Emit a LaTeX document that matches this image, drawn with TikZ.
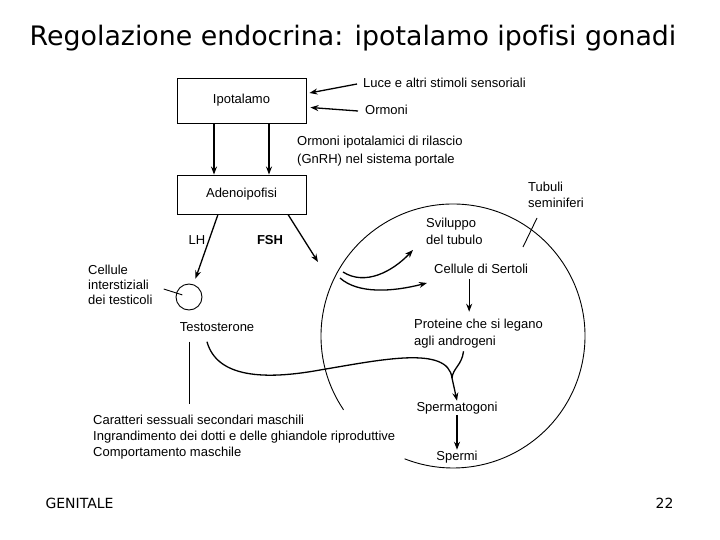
\documentclass[tikz,border=0pt]{standalone}
\usepackage{fontspec}
\setmainfont[Ligatures=NoCommon]{Liberation Sans}
\newfontfamily\slidefont[Ligatures=NoCommon]{DejaVu Sans}
\usetikzlibrary{arrows.meta}

\tikzset{
	lbl/.style={inner sep=1pt, align=left, font=\fontsize{13}{16}\selectfont},
	organbox/.style={draw, line width=0.9pt, minimum width=129pt, inner sep=0pt, font=\fontsize{13}{16}\selectfont},
	flow/.style={line width=1.3pt, -{Stealth[length=8pt,width=6pt]}},
	thinline/.style={line width=0.9pt},
}

\begin{document}
\begin{tikzpicture}[x=1pt,y=-1pt]
			%%%%% START %%%%%
			\useasboundingbox (0,0) rectangle (720,540);
			
			\node[font=\slidefont\fontsize{26.8}{30}\selectfont] (title) at (353,38) {Regolazione endocrina: ipotalamo ipofisi gonadi};
			
			\node[organbox, minimum height=45pt] (ipot) at (241.5,100.5) {Ipotalamo};
			\node[organbox, minimum height=39pt] (adeno) at (241.5,194.5) {Adenoipofisi};
			
			\draw[flow] ([xshift=-27.5pt]ipot.south) -- ([xshift=-27.5pt]adeno.north);
			\draw[flow] ([xshift=27.5pt]ipot.south) -- ([xshift=27.5pt]adeno.north);
			
			\node[lbl, anchor=west] (luce) at (362,83) {Luce e altri stimoli sensoriali};
			\node[lbl, anchor=west] (ormoni) at (364,110) {Ormoni};
			\draw[flow] ([xshift=-5pt,yshift=-1pt]luce.west) -- ([xshift=3pt,yshift=7.5pt]ipot.east);
			\draw[flow] ([xshift=-6pt,yshift=-1pt]ormoni.west) -- ([xshift=4pt,yshift=-7pt]ipot.east);
			
			\node[lbl, anchor=west, font=\fontsize{13}{18}\selectfont] (gnrh) at (296,151) {Ormoni ipotalamici di rilascio\\(GnRH) nel sistema portale};
			
			% tubulo seminifero
			\draw[thinline] (453,336) ++(146:132) arc[start angle=146, end angle=471.5, radius=132];
			\node[lbl, anchor=west] (tubuli) at (527,195) {Tubuli\\seminiferi};
			\draw[thinline] (537,218) -- (523,247);
			
			\node[lbl, anchor=west, font=\fontsize{13}{17}\selectfont] (sviluppo) at (425,231.5) {Sviluppo\\del tubulo};
			\node[lbl, anchor=west] (sertoli) at (433,269) {Cellule di Sertoli};
			\node[lbl, anchor=west, font=\fontsize{13}{17}\selectfont] (proteine) at (413,333.5) {Proteine che si legano\\agli androgeni};
			\node[lbl] (spermatogoni) at (457,408) {Spermatogoni};
			\node[lbl] (spermi) at (457,457) {Spermi};
			
			\coordinate (fshin1) at (343,272);
			\coordinate (fshin2) at (340,278);
			\coordinate (merge) at (452,378);
			
			\draw[flow] (fshin1) .. controls (365,286) and (392,272) .. ([xshift=-12pt,yshift=-4pt]sviluppo.south west);
			\draw[flow] (fshin2) .. controls (358,294) and (392,292) .. ([xshift=-6pt,yshift=-8pt]sertoli.south west);
			\draw[flow] ([xshift=-12pt,yshift=-4pt]sertoli.south) -- ([xshift=-12pt,yshift=6pt]sertoli.south |- proteine.north);
			\draw[flow] (spermatogoni.south) -- (spermi.north);
			
			% ipofisi -> testicolo
			\node[lbl] (lh) at (197,240) {LH};
			\node[lbl, font=\fontsize{13}{16}\bfseries] (fsh) at (270,240) {FSH};
			\node[draw, thinline, circle, minimum size=26pt, inner sep=0pt] (cell) at (189,297) {};
			\coordinate (fshend) at (318,262);
			\draw[flow, shorten >=6pt] ([xshift=-23.5pt]adeno.south) -- (cell);
			\draw[flow] ([xshift=46.5pt]adeno.south) -- (fshend);
			
			\node[lbl, anchor=west, font=\fontsize{13}{15}\selectfont] (interst) at (87,285) {Cellule\\interstiziali\\dei testicoli};
			\draw[thinline, shorten >=7pt] ([xshift=10pt,yshift=-4pt]interst.east) -- (cell.center);
			
			\node[lbl] (testo) at (217,327) {Testosterone};
			\node[lbl, anchor=west] (carat) at (92,437) {Caratteri sessuali secondari maschili\\Ingrandimento dei dotti e delle ghiandole riproduttive\\Comportamento maschile};
			\draw[thinline, shorten <=9pt, shorten >=10pt] (testo.south -| cell.center) -- (carat.north -| cell.center);
			
			\draw[line width=1.3pt] ([xshift=-10pt,yshift=-9pt]testo.south) .. controls (217,378) and (265,380) .. (320,370) .. controls (380,360) and (448,345) .. (merge);
			\draw[line width=1.3pt] ([xshift=-15pt,yshift=-2pt]proteine.south) .. controls (462,365) and (453,368) .. (merge);
			\draw[flow] (merge) -- (spermatogoni.north);
			
			\node[font=\slidefont\fontsize{14}{16}\selectfont, anchor=west] (genitale) at (42,503) {GENITALE};
			\node[font=\slidefont\fontsize{14}{16}\selectfont, anchor=east] (pagina) at (677,503) {22};
			%%%%% END %%%%%
\end{tikzpicture}
\end{document}
